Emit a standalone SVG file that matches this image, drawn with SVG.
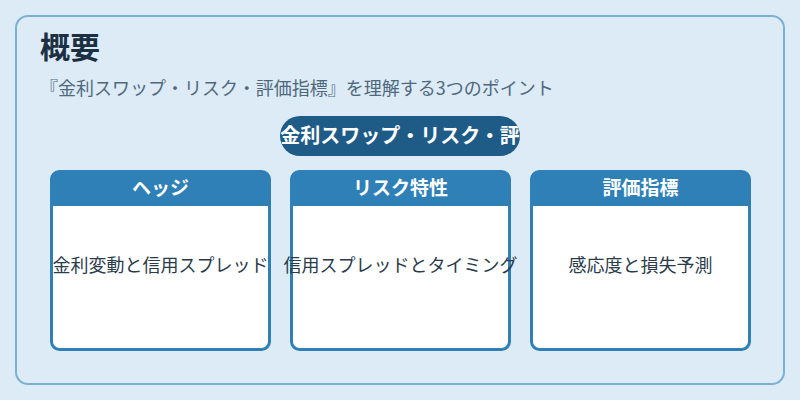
<svg xmlns="http://www.w3.org/2000/svg" width="800" height="400" viewBox="0 0 800 400">
<defs>
<style>
.jp{font-family:"Noto Sans CJK JP","Noto Sans",sans-serif;}
.title{font-size:30px;font-weight:bold;fill:#1b3042;}
.sub{font-size:18px;fill:#4f687c;}
.pilltxt{font-size:20px;font-weight:bold;fill:#ffffff;}
.card{fill:#ffffff;stroke:#2e80b6;stroke-width:3;}
.hdr{fill:#2e80b6;}
.htxt{font-size:19px;font-weight:bold;fill:#ffffff;}
.btxt{font-size:18px;fill:#2a3b4a;}
</style>
<clipPath id="pillclip"><rect x="280" y="116" width="240" height="40" rx="20"/></clipPath>
</defs>
<rect x="0" y="0" width="800" height="400" fill="#dcebf6"/>
<rect x="16" y="16" width="768" height="368" rx="12" fill="#dcebf6" stroke="#7ab0d4" stroke-width="2"/>
<text class="jp title" x="40" y="58">概要</text>
<text class="jp sub" x="40" y="95">『金利スワップ・リスク・評価指標』を理解する3つのポイント</text>
<g id="pill">
<rect x="280" y="116" width="240" height="40" rx="20" fill="#1f5b87"/>
<text class="jp pilltxt" x="400" y="143" text-anchor="middle" clip-path="url(#pillclip)">金利スワップ・リスク・評</text>
</g>
<g id="connectors"></g>
<g id="card-hedge">
<rect class="card" x="51.5" y="171.5" width="218" height="178" rx="8"/>
<path class="hdr" d="M51.5 206 V179.5 A8 8 0 0 1 59.5 171.5 H261.5 A8 8 0 0 1 269.5 179.5 V206 Z"/>
<text class="jp htxt" x="160.5" y="195" text-anchor="middle">ヘッジ</text>
<text class="jp btxt" x="160.5" y="272" text-anchor="middle">金利変動と信用スプレッド</text>
</g>
<g id="card-risk">
<rect class="card" x="291.5" y="171.5" width="218" height="178" rx="8"/>
<path class="hdr" d="M291.5 206 V179.5 A8 8 0 0 1 299.5 171.5 H501.5 A8 8 0 0 1 509.5 179.5 V206 Z"/>
<text class="jp htxt" x="400.5" y="195" text-anchor="middle">リスク特性</text>
<text class="jp btxt" x="400.5" y="272" text-anchor="middle">信用スプレッドとタイミング</text>
</g>
<g id="card-eval">
<rect class="card" x="531.5" y="171.5" width="218" height="178" rx="8"/>
<path class="hdr" d="M531.5 206 V179.5 A8 8 0 0 1 539.5 171.5 H741.5 A8 8 0 0 1 749.5 179.5 V206 Z"/>
<text class="jp htxt" x="640.5" y="195" text-anchor="middle">評価指標</text>
<text class="jp btxt" x="640.5" y="272" text-anchor="middle">感応度と損失予測</text>
</g>
</svg>
